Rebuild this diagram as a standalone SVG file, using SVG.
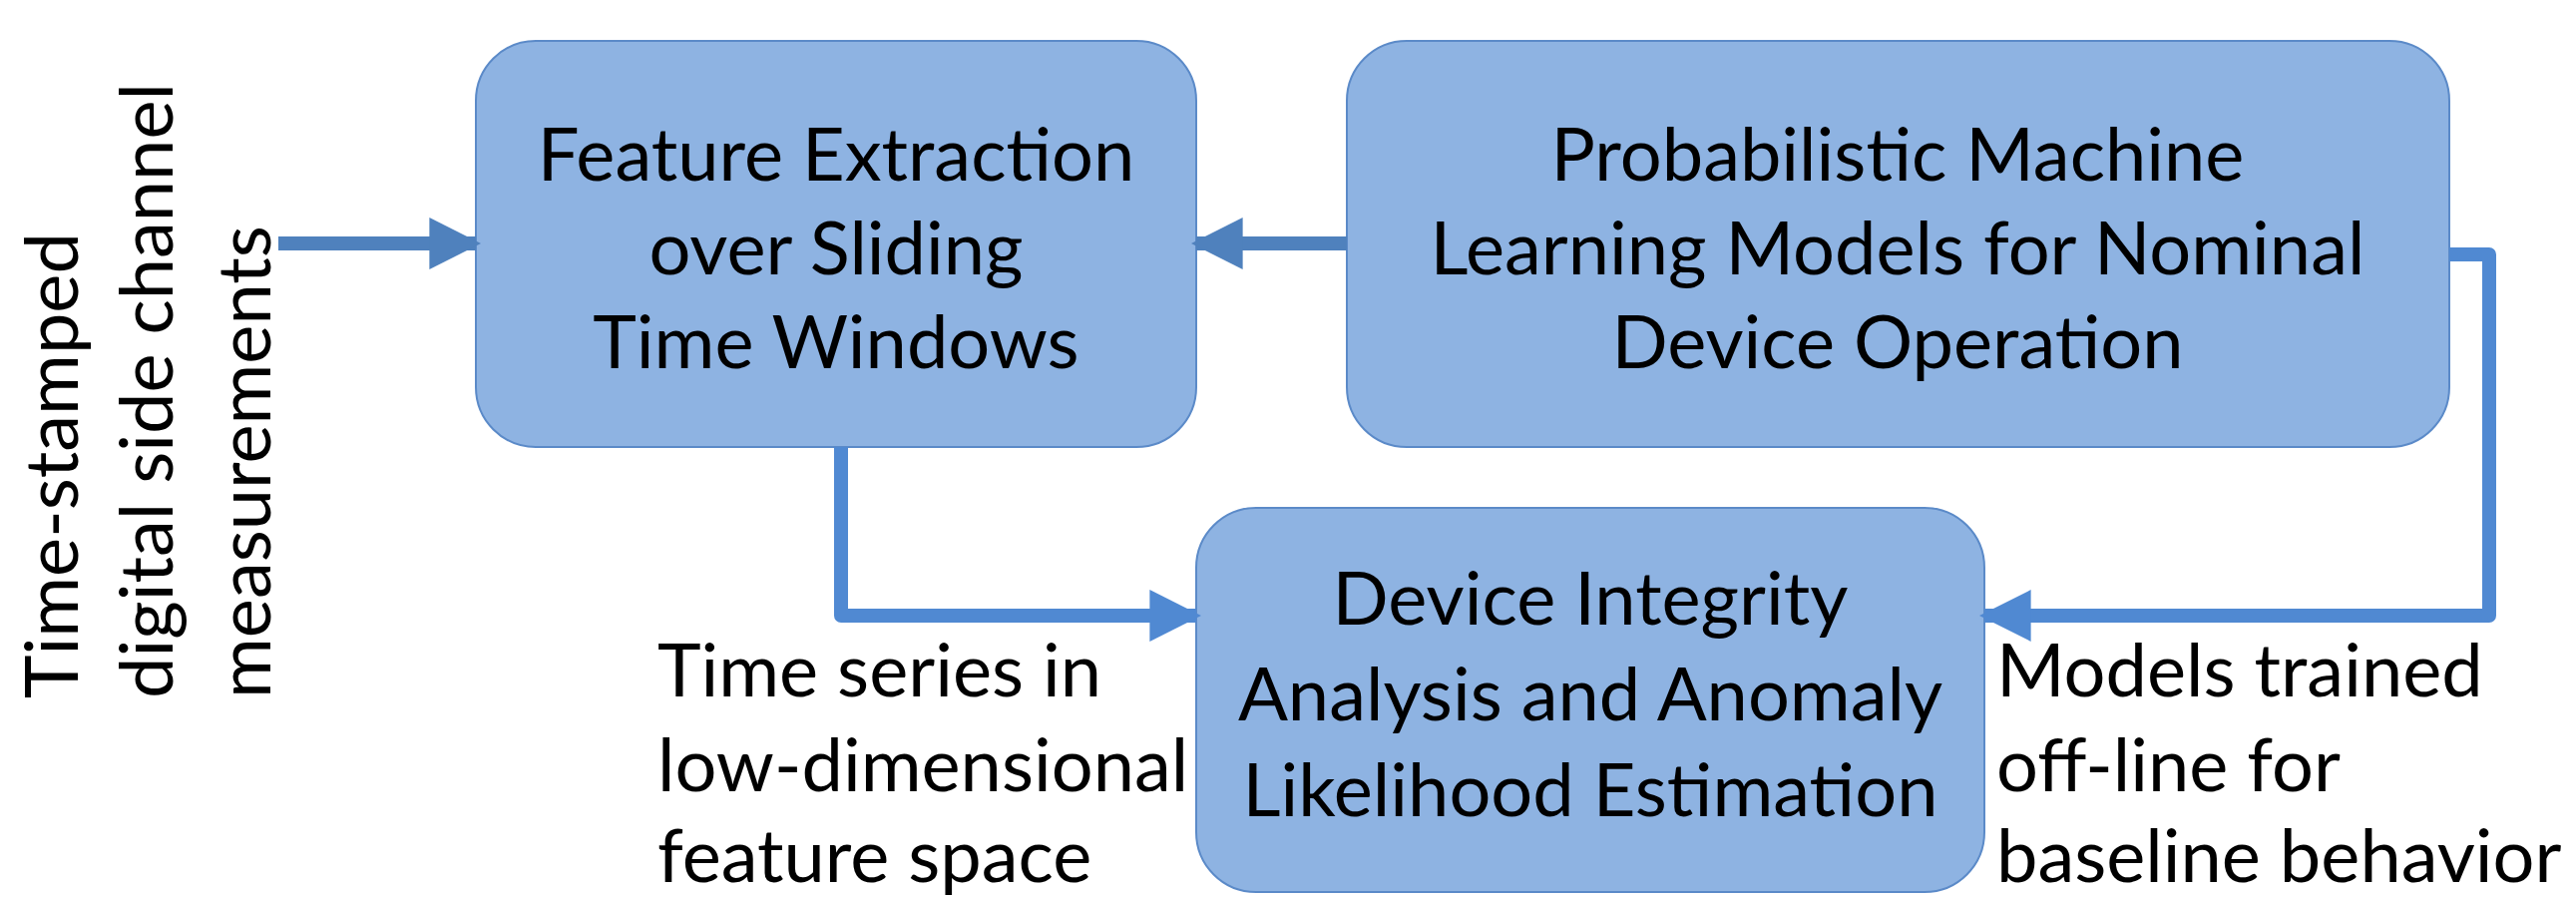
<svg xmlns="http://www.w3.org/2000/svg" width="2582" height="900" viewBox="0 0 2582 900">
<style>
.box{fill:#8EB3E2;stroke:#5B8AC8;stroke-width:2}
.t{font-family:Lato,"Liberation Sans",sans-serif;font-size:74px;fill:#000}
.c{text-anchor:middle}
.conn{fill:none;stroke:#5089D2;stroke-width:14;stroke-linejoin:round}
.conn2{fill:none;stroke:#4F81BD;stroke-width:14}
</style>
<defs>
<marker id="ah" viewBox="0 0 10 10" refX="9" refY="5" markerWidth="3.7" markerHeight="3.7" orient="auto" markerUnits="strokeWidth">
<path d="M0,0 L10,5 L0,10 z" fill="#5089D2"/>
</marker>
<marker id="ah2" viewBox="0 0 10 10" refX="9" refY="5" markerWidth="3.7" markerHeight="3.7" orient="auto" markerUnits="strokeWidth">
<path d="M0,0 L10,5 L0,10 z" fill="#4F81BD"/>
</marker>
</defs>
<g id="input-label">
<text class="t" transform="translate(78,700) rotate(-90)">Time-stamped</text>
<text class="t" transform="translate(173,700) rotate(-90)">digital side channel</text>
<text class="t" transform="translate(271,700) rotate(-90)">measurements</text>
</g>
<g id="feature-extraction">
<rect class="box" x="477" y="41" width="722" height="407" rx="60"/>
<text class="t c" x="838" y="181">Feature Extraction</text>
<text class="t c" x="838" y="275">over Sliding</text>
<text class="t c" x="838" y="369">Time Windows</text>
</g>
<g id="ml-models">
<rect class="box" x="1350" y="41" width="1105" height="407" rx="60"/>
<text class="t c" x="1902" y="181">Probabilistic Machine</text>
<text class="t c" x="1902" y="275">Learning Models for Nominal</text>
<text class="t c" x="1902" y="369">Device Operation</text>
</g>
<g id="integrity-analysis">
<rect class="box" x="1199" y="509" width="790" height="385" rx="60"/>
<text class="t c" x="1594" y="626">Device Integrity</text>
<text class="t c" x="1594" y="722">Analysis and Anomaly</text>
<text class="t c" x="1594" y="818">Likelihood Estimation</text>
</g>
<g id="labels">
<text class="t" x="659" y="698">Time series in</text>
<text class="t" x="659" y="793">low-dimensional</text>
<text class="t" x="659" y="884">feature space</text>
<text class="t" x="2001" y="698">Models trained</text>
<text class="t" x="2001" y="793">off-line for</text>
<text class="t" x="2001" y="884">baseline behavior</text>
</g>
<g id="connectors">
<path class="conn2" d="M279,244 H477" marker-end="url(#ah2)"/>
<path class="conn2" d="M1350,244 H1199" marker-end="url(#ah2)"/>
<path class="conn" d="M843,448 V617 H1199" marker-end="url(#ah)"/>
<path class="conn" d="M2455,255 H2495 V617 H1989" marker-end="url(#ah)"/>
</g>
</svg>
